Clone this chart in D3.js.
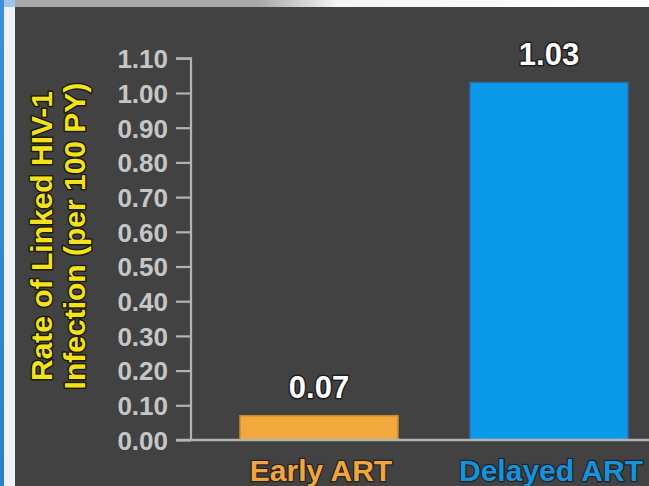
<!DOCTYPE html>
<html>
<head>
<meta charset="utf-8">
<script src="https://cdn.jsdelivr.net/npm/d3@7"></script>
<style>
html,body{margin:0;padding:0;background:#424242;overflow:hidden;}
svg{display:block;}
text{font-family:"Liberation Sans",Arial,Helvetica,sans-serif;font-weight:bold;}
</style>
</head>
<body>
<script>
const categories = ["Early ART", "Delayed ART"];
const values = [0.07, 1.03];
const valueLabels = ["0.07", "1.03"];
const tickValues = [0,0.1,0.2,0.3,0.4,0.5,0.6,0.7,0.8,0.9,1.0,1.1];
const barFill = ["#f2a93c", "#0a9ae9"];
const barStroke = ["#c98a2e", "#2d6eae"];
const labelColor = ["#f2a53a", "#1492de"];
const yTitle = ["Rate of Linked HIV-1", "Infection (per 100 PY)"];

const W = 649, H = 486;
const svg = d3.select("body").append("svg").attr("width", W).attr("height", H);
const defs = svg.append("defs");
const tg = defs.append("linearGradient").attr("id","topg").attr("x1","0").attr("x2","1");
tg.append("stop").attr("offset","0.4").attr("stop-color","#a9a9a9");
tg.append("stop").attr("offset","0.52").attr("stop-color","#f4f4f4");
tg.append("stop").attr("offset","1").attr("stop-color","#ffffff");
const lg = defs.append("linearGradient").attr("id","leftg").attr("x1","0").attr("x2","0").attr("y1","0").attr("y2","1");
lg.append("stop").attr("offset","0").attr("stop-color","#3b8fdc");
lg.append("stop").attr("offset","1").attr("stop-color","#2f7ccc");

svg.append("rect").attr("width",W).attr("height",H).attr("fill","#424242");
svg.append("rect").attr("x",0).attr("y",0).attr("width",W).attr("height",7).attr("fill","url(#topg)");
svg.append("rect").attr("x",4).attr("y",7).attr("width",11).attr("height",H-7).attr("fill","#eef2f6");
svg.append("rect").attr("x",0).attr("y",0).attr("width",4).attr("height",H).attr("fill","url(#leftg)");
svg.append("rect").attr("x",4).attr("y",0).attr("width",11).attr("height",7).attr("fill","#9fc4ea");

const axisX = 191;
const y = d3.scaleLinear().domain([0, 1.1]).range([440, 58.3]);
const x = d3.scaleBand().domain(categories).range([axisX, 677]).paddingInner(0.313).paddingOuter(0.213);

// axis
const yAxis = d3.axisLeft(y).tickValues(tickValues).tickSize(15).tickPadding(8).tickFormat(d3.format(".2f"));
const gy = svg.append("g").attr("transform", `translate(${axisX},0)`).call(yAxis);
gy.select(".domain").attr("stroke","#b3b3b3").attr("stroke-width",2.2).attr("d", `M-15,${y(1.1)}H0V${y(0)}`);
gy.selectAll(".tick line").attr("stroke","#b3b3b3").attr("stroke-width",2.2);
gy.selectAll(".tick text").attr("fill","#c6c6c6").attr("font-size",26).attr("dy","0.36em")
  .attr("font-family","'Liberation Sans',Arial,sans-serif").attr("font-weight","bold");

// bars
svg.selectAll("rect.bar").data(categories).enter().append("rect").attr("class","bar")
  .attr("x", d => x(d)).attr("width", x.bandwidth())
  .attr("y", (d,i) => y(values[i])).attr("height", (d,i) => y(0) - y(values[i]))
  .attr("fill", (d,i) => barFill[i]).attr("stroke", (d,i) => barStroke[i]).attr("stroke-width", 1.5);

// baseline
svg.append("line").attr("x1", axisX-15).attr("x2", W).attr("y1", y(0)).attr("y2", y(0))
  .attr("stroke","#b3b3b3").attr("stroke-width",2.5);

// value labels
svg.selectAll("text.val").data(categories).enter().append("text").attr("class","val")
  .attr("x", d => x(d) + x.bandwidth()/2).attr("y", (d,i) => y(values[i]) - 18)
  .attr("text-anchor","middle").attr("font-size",31).attr("fill","#ffffff")
  .attr("stroke","#1e1e1e").attr("stroke-width",3).attr("paint-order","stroke").attr("stroke-linejoin","round")
  .text((d,i) => valueLabels[i]);

// category labels
svg.selectAll("text.cat").data(categories).enter().append("text").attr("class","cat")
  .attr("x", d => x(d) + x.bandwidth()/2 + 2).attr("y", 481)
  .attr("text-anchor","middle").attr("font-size",30).attr("fill",(d,i) => labelColor[i])
  .attr("stroke","#222").attr("stroke-width",2.5).attr("paint-order","stroke").attr("stroke-linejoin","round")
  .text(d => d);

// y title
const t = svg.append("text").attr("transform","translate(52,236) rotate(-90)")
  .attr("text-anchor","middle").attr("font-size",30).attr("fill","#f3e21c")
  .attr("stroke","#1c1c00").attr("stroke-width",3).attr("paint-order","stroke").attr("stroke-linejoin","round");
yTitle.forEach((s,i) => t.append("tspan").attr("x",0).attr("dy", i === 0 ? 0 : 33).text(s));
</script>
</body>
</html>
